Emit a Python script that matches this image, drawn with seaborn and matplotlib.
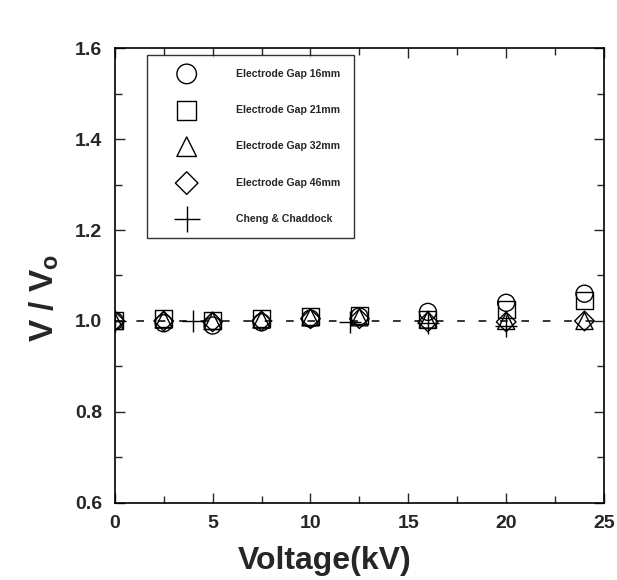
import matplotlib
matplotlib.use("Agg")
import matplotlib.pyplot as plt
import seaborn as sns
import pandas as pd
from matplotlib.ticker import MultipleLocator

sns.set_style("ticks")
plt.rcParams['font.family'] = ['Liberation Sans', 'DejaVu Sans']
plt.rcParams['font.weight'] = 'bold'
plt.rcParams['mathtext.fontset'] = 'custom'
plt.rcParams['mathtext.bf'] = 'Liberation Sans:bold'

voltage = [0, 2.5, 5, 7.5, 10, 12.5, 16, 20, 24]
gap16 = [1.0, 0.995, 0.99, 0.997, 1.005, 1.01, 1.02, 1.04, 1.06]
gap21 = [1.0, 1.005, 1.0, 1.005, 1.01, 1.012, 1.003, 1.025, 1.045]
gap32 = [1.0, 1.003, 1.0, 1.003, 1.008, 1.008, 1.003, 1.0, 1.0]
gap46 = [1.0, 1.0, 0.998, 1.0, 1.005, 1.005, 0.998, 0.998, 1.0]
cc_voltage = [0, 4, 12, 16, 20]
cc_ratio = [1.0, 1.0, 0.998, 0.995, 0.99]
labels = ["Electrode Gap 16mm", "Electrode Gap 21mm", "Electrode Gap 32mm",
          "Electrode Gap 46mm", "Cheng & Chaddock"]

fig = plt.figure(figsize=(6.17, 5.8), dpi=100)
ax = fig.add_axes([0.186, 0.133, 0.793, 0.784])

ax.axhline(1.0, color='black', linestyle=(0, (5, 9)), linewidth=1.1, zorder=1)

series = [(gap16, 'o'), (gap21, 's'), (gap32, '^'), (gap46, 'D')]
sizes = {'o': 150, 's': 150, '^': 150, 'D': 100}
for (vals, m), lab in zip(series, labels[:4]):
    df = pd.DataFrame({'x': voltage, 'y': vals})
    sns.scatterplot(data=df, x='x', y='y', marker=m, s=sizes[m], facecolor='none',
                    edgecolor='black', linewidth=1.0, ax=ax, label=lab, zorder=3)
dfc = pd.DataFrame({'x': cc_voltage, 'y': cc_ratio})
sns.scatterplot(data=dfc, x='x', y='y', marker='+', s=250, color='black',
                linewidth=1.0, ax=ax, label=labels[4], zorder=3)

ax.set_xlim(0, 25)
ax.set_ylim(0.6, 1.6)
ax.xaxis.set_major_locator(MultipleLocator(5))
ax.xaxis.set_minor_locator(MultipleLocator(2.5))
ax.yaxis.set_major_locator(MultipleLocator(0.2))
ax.yaxis.set_minor_locator(MultipleLocator(0.1))
ax.tick_params(which='both', direction='in', top=True, right=True, width=1)
ax.tick_params(which='major', length=7, labelsize=14, pad=9)
ax.tick_params(which='minor', length=5)
for s in ax.spines.values():
    s.set_linewidth(1.2)
    s.set_color('black')
ax.set_xticklabels([f"{int(v)}" for v in ax.get_xticks()], fontweight='bold')
ax.set_yticklabels([f"{v:.1f}" for v in ax.get_yticks()], fontweight='bold')

ax.set_xlabel("Voltage(kV)", fontsize=23, fontweight='bold')
ax.xaxis.set_label_coords(0.43, -0.095)
ax.set_ylabel(r"V / V$_\mathbf{o}$", fontsize=24, fontweight='bold')
ax.yaxis.set_label_coords(-0.11, 0.45)

leg = ax.legend(loc='upper left', bbox_to_anchor=(0.065, 0.985), frameon=True,
                fancybox=False, edgecolor='black', prop={'size': 7.6, 'weight': 'bold'},
                labelspacing=2.5, handlelength=5.0, handletextpad=2.2, borderpad=1.3,
                markerscale=1.15, borderaxespad=0)
leg.get_frame().set_linewidth(1.0)

fig.savefig("out.png", dpi=100)
